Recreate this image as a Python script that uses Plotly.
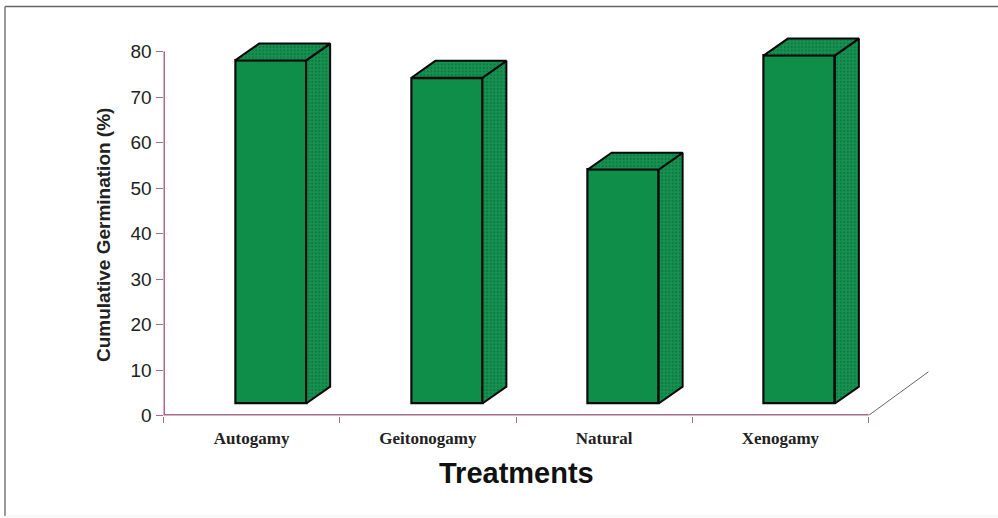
import plotly.graph_objects as go

categories = ["Autogamy", "Geitonogamy", "Natural", "Xenogamy"]
germination = [75.4, 71.6, 51.4, 76.5]
y_ticks = [0, 10, 20, 30, 40, 50, 60, 70, 80]

W, H = 998, 518
AX_L, AX_R_EXT, AX_T_EXT, AX_B = 163.5, 939, 24.2, 415.5
Y_MAX, Y_EXT = 80, 86
FLOOR = 2.64
BAR_W = 0.403
BAR_SHIFT = 0.108
DEPTH_X = 0.136
DEPTH_Y = 3.7
WALL_X = 0.34
WALL_Y = 9.6
GREEN = "#0e8e48"
PAT = dict(shape=".", size=3.5, solidity=0.3, fgcolor="#0a5a33", bgcolor="#169250")
EDGE = dict(color="#0a0a0a", width=2)
AXIS = "#a56a8c"

centers = [i + 0.5 for i in range(len(categories))]
n = len(categories)
fig = go.Figure()

for c, v in zip(centers, germination):
    l = c + BAR_SHIFT - BAR_W / 2
    r = c + BAR_SHIFT + BAR_W / 2
    t = FLOOR + v
    fig.add_trace(go.Scatter(
        x=[r, r + DEPTH_X, r + DEPTH_X, r, r],
        y=[FLOOR, FLOOR + DEPTH_Y, t + DEPTH_Y, t, FLOOR],
        fill="toself", fillpattern=PAT, mode="lines", line=EDGE,
        hoverinfo="skip", showlegend=False))
    fig.add_trace(go.Scatter(
        x=[l, l + DEPTH_X, r + DEPTH_X, r, l],
        y=[t, t + DEPTH_Y, t + DEPTH_Y, t, t],
        fill="toself", fillpattern=PAT, mode="lines", line=EDGE,
        hoverinfo="skip", showlegend=False))

fig.add_trace(go.Bar(
    x=[c + BAR_SHIFT for c in centers], y=germination, base=FLOOR, width=BAR_W,
    marker=dict(color=GREEN, line=dict(color="#0a0a0a", width=2.2)),
    showlegend=False))

# floor edge receding from the end of the category axis
fig.add_trace(go.Scatter(
    x=[n, n + WALL_X], y=[0, WALL_Y], mode="lines",
    line=dict(color="#666666", width=1), hoverinfo="skip", showlegend=False))
# axis lines stop at the last tick, the plot area continues for the 3D depth
fig.add_trace(go.Scatter(
    x=[0, n], y=[0, 0], mode="lines", line=dict(color=AXIS, width=3),
    hoverinfo="skip", showlegend=False))
fig.add_trace(go.Scatter(
    x=[0, 0], y=[0, Y_MAX], mode="lines", line=dict(color=AXIS, width=3),
    hoverinfo="skip", showlegend=False))

frame = dict(type="line", xref="paper", yref="paper")
fig.update_layout(
    width=W, height=H, margin=dict(l=0, r=0, t=0, b=0, autoexpand=False),
    paper_bgcolor="white", plot_bgcolor="white", bargap=0,
    xaxis=dict(
        domain=[AX_L / W, AX_R_EXT / W], range=[0, n + 0.4], tickmode="array",
        automargin=False, tickvals=centers,
        ticktext=[f"<b>{c}</b>" for c in categories],
        ticks="", showgrid=False, zeroline=False, showline=False,
        ticklabelstandoff=10,
        tickfont=dict(family="Liberation Serif", size=17, color="#222222"),
        minor=dict(tickmode="array", tickvals=list(range(n + 1)), ticks="outside",
                   ticklen=6, tickcolor=AXIS, tickwidth=1, showgrid=False),
    ),
    yaxis=dict(
        domain=[1 - AX_B / H, 1 - AX_T_EXT / H], range=[0, Y_EXT], tickmode="array",
        automargin=False, tickvals=y_ticks, ticks="outside", ticklen=7,
        tickcolor=AXIS, tickwidth=1, showgrid=False, zeroline=False, showline=False,
        tickfont=dict(family="Liberation Sans", size=19, color="#222222"),
    ),
    annotations=[
        dict(text="<b>Treatments</b>", xref="paper", yref="paper",
             x=516 / W, y=1 - 473 / H, showarrow=False,
             xanchor="center", yanchor="middle",
             font=dict(family="Liberation Sans", size=29, color="#111111")),
        dict(text="<b>Cumulative Germination (%)</b>", xref="paper", yref="paper",
             x=103 / W, y=1 - 235 / H, showarrow=False, textangle=-90,
             xanchor="center", yanchor="middle",
             font=dict(family="Liberation Sans", size=19, color="#222222")),
    ],
    shapes=[
        dict(frame, x0=5 / W, x1=1, y0=1 - 6.5 / H, y1=1 - 6.5 / H,
             line=dict(color="#666666", width=1.5)),
        dict(frame, x0=5 / W, x1=5 / W, y0=1 - 516 / H, y1=1 - 6.5 / H,
             line=dict(color="#777777", width=1.5)),
        dict(frame, x0=5 / W, x1=1, y0=1 - 516 / H, y1=1 - 516 / H,
             line=dict(color="#eeeeee", width=1)),
    ],
)

fig.write_html("out.html", config=dict(displayModeBar=False),
               post_script="document.body.style.margin='0';document.documentElement.style.overflow='hidden';")
